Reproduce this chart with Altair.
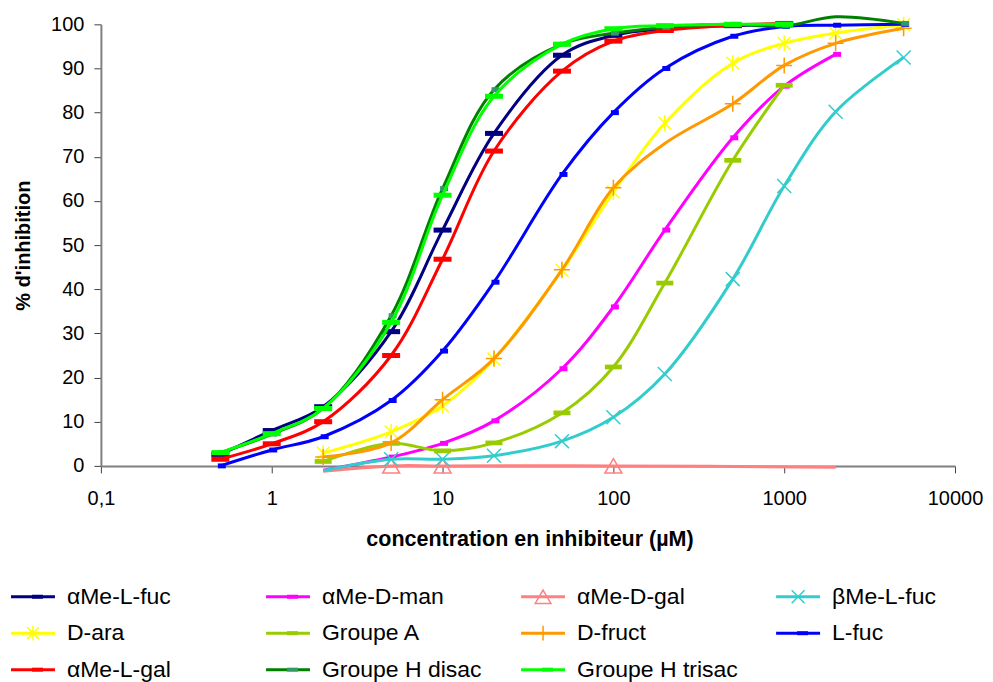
import altair as alt
import pandas as pd

# ---------------- data ----------------
series_names = ["αMe-L-fuc", "αMe-D-man", "αMe-D-gal", "βMe-L-fuc", "D-ara", "Groupe A",
                "D-fruct", "L-fuc", "αMe-L-gal", "Groupe H disac", "Groupe H trisac"]

a_me_l_fuc_x = [0.5, 1, 2, 5, 10, 20, 50, 100, 200, 500, 1000]
a_me_l_fuc_y = [2.6, 8, 13.4, 30.4, 53.4, 75.3, 93, 97.5, 99, 99.7, 100]

a_me_d_man_x = [2, 5, 10, 20, 50, 100, 200, 500, 1000, 2000]
a_me_d_man_y = [-1, 2, 5.1, 10.2, 22, 36, 53.4, 74.3, 86, 93.2]

a_me_d_gal_x = [2, 5, 10, 100, 2000]
a_me_d_gal_y = [-1.2, 0, 0, 0, -0.3]

b_me_l_fuc_x = [2, 5, 10, 20, 50, 100, 200, 500, 1000, 2000, 5000]
b_me_l_fuc_y = [-1.1, 1.5, 1.5, 2.3, 5.6, 11, 20.8, 42.3, 63.4, 80.2, 92.5]

d_ara_x = [2, 5, 10, 20, 50, 100, 200, 500, 1000, 2000, 5000]
d_ara_y = [2.9, 7.7, 13.6, 24.2, 44.3, 62, 77.6, 91.2, 95.7, 98, 99.9]

groupe_a_x = [2, 5, 10, 20, 50, 100, 200, 500, 1000]
groupe_a_y = [1, 5.1, 3.4, 5.2, 12, 22.4, 41.4, 69.2, 86.2]

d_fruct_x = [2, 5, 10, 20, 50, 100, 200, 500, 1000, 2000, 5000]
d_fruct_y = [2, 5.2, 15, 24.3, 44.4, 63, 73, 82, 90.7, 95.7, 99.1]

l_fuc_x = [0.5, 1, 2, 5, 10, 20, 50, 100, 200, 500, 1000, 2000, 5000]
l_fuc_y = [0, 3.6, 6.6, 14.8, 26, 41.6, 66, 80, 90, 97.3, 99.5, 99.8, 100]

a_me_l_gal_x = [0.5, 1, 2, 5, 10, 20, 50, 100, 200, 500, 1000]
a_me_l_gal_y = [1.5, 5, 10, 25, 46.8, 71.3, 89.4, 96.2, 98.6, 99.8, 100.2]

h_disac_x = [0.5, 1, 2, 5, 10, 20, 50, 100, 200, 500, 1000, 2000, 5000]
h_disac_y = [3, 7.2, 13, 34, 62.8, 85.2, 95.5, 98, 99.3, 100, 99.6, 101.7, 100.2]

h_trisac_x = [0.5, 1, 2, 5, 10, 20, 50, 100, 200, 500, 1000]
h_trisac_y = [3, 7.3, 13, 32.5, 61.3, 83.7, 95.5, 99, 99.7, 100, 100]

# points drawn without a marker (concentrations)
no_marker = {"αMe-D-man": [2], "αMe-D-gal": [2, 2000], "βMe-L-fuc": [2],
             "D-fruct": [200], "Groupe H disac": [2000]}

x_ticks = [0.1, 1, 10, 100, 1000, 10000]
y_ticks = [0, 10, 20, 30, 40, 50, 60, 70, 80, 90, 100]

all_x = [a_me_l_fuc_x, a_me_d_man_x, a_me_d_gal_x, b_me_l_fuc_x, d_ara_x, groupe_a_x,
         d_fruct_x, l_fuc_x, a_me_l_gal_x, h_disac_x, h_trisac_x]
all_y = [a_me_l_fuc_y, a_me_d_man_y, a_me_d_gal_y, b_me_l_fuc_y, d_ara_y, groupe_a_y,
         d_fruct_y, l_fuc_y, a_me_l_gal_y, h_disac_y, h_trisac_y]

# ---------------- styles ----------------
BIG_DASH = "M-1,-0.28L1,-0.28L1,0.28L-1,0.28Z"
SMALL_DASH = "M-0.45,-0.45L1,-0.45L1,0.45L-0.45,0.45Z"
LEG_DASH = "M-0.1,-0.2L1,-0.2L1,0.2L-0.1,0.2Z"
TRI = "M0,-0.85L1,0.85L-1,0.85Z"
CROSS = "M-1,-1L1,1M-1,1L1,-1"
PLUS = "M0,-1L0,1M-1,0L1,0"
STAR = "M0,-1L0,1M-0.8,-0.8L0.8,0.8M-0.8,0.8L0.8,-0.8"

styles = {
    "αMe-L-fuc": dict(line="#000080", mk="#000080", shape=BIG_DASH, size=324, filled=True, sw=0),
    "αMe-D-man": dict(line="#FF00FF", mk="#FF00FF", shape=SMALL_DASH, size=121, filled=True, sw=0),
    "αMe-D-gal": dict(line="#FF8080", mk="#FF8080", shape=TRI, size=289, filled=False, sw=1.5),
    "βMe-L-fuc": dict(line="#33CCCC", mk="#33CCCC", shape=CROSS, size=196, filled=False, sw=1.5),
    "D-ara": dict(line="#FFFF00", mk="#FFFF00", shape=STAR, size=256, filled=False, sw=1.5),
    "Groupe A": dict(line="#99CC00", mk="#99CC00", shape=BIG_DASH, size=289, filled=True, sw=0),
    "D-fruct": dict(line="#FF9900", mk="#FF9900", shape=PLUS, size=256, filled=False, sw=1.5),
    "L-fuc": dict(line="#0000FF", mk="#0000FF", shape=SMALL_DASH, size=121, filled=True, sw=0),
    "αMe-L-gal": dict(line="#FF0000", mk="#FF0000", shape=BIG_DASH, size=324, filled=True, sw=0),
    "Groupe H disac": dict(line="#008000", mk="#339966", shape=SMALL_DASH, size=121, filled=True, sw=0),
    "Groupe H trisac": dict(line="#00FF00", mk="#00FF00", shape=BIG_DASH, size=324, filled=True, sw=0),
}

FONT = "Liberation Sans"
PLOT_W, PLOT_H = 855, 442

rows = []
for name, xs, ys in zip(series_names, all_x, all_y):
    for i, (c, v) in enumerate(zip(xs, ys)):
        rows.append(dict(series=name, conc=c, pct=v, idx=i,
                         marked=c not in no_marker.get(name, [])))
df = pd.DataFrame(rows)

x_enc = alt.X("conc:Q",
              scale=alt.Scale(type="log", domain=[0.1, 10000], nice=False),
              axis=alt.Axis(values=x_ticks,
                            labelExpr="datum.value < 0.5 ? '0,1' : format(datum.value, 'd')",
                            grid=False, tickSize=7, tickColor="#404040", domainColor="#808080",
                            domainWidth=2, labelFontSize=20, labelFont=FONT, labelColor="black",
                            labelPadding=16, labelFlush=False,
                            title="concentration en inhibiteur (µM)", titleFont=FONT,
                            titleFontSize=21.5, titleFontWeight="bold", titleColor="black",
                            titleX=429, titleY=74, titleBaseline="middle"))
y_enc = alt.Y("pct:Q",
              scale=alt.Scale(domain=[0, 100], nice=False, zero=False),
              axis=alt.Axis(values=y_ticks, grid=False, tickSize=7, tickColor="#404040",
                            domainColor="#808080", domainWidth=2, labelFontSize=20,
                            labelFont=FONT, labelColor="black", labelPadding=10,
                            title="% d'inhibition", titleFont=FONT, titleFontSize=20,
                            titleFontWeight="bold", titleColor="black", titleAngle=270,
                            titleX=-77, titleY=PLOT_H / 2, titleBaseline="middle",
                            titleAlign="center"))

base = alt.Chart(df)
plot_layers = []
for name in series_names:
    st = styles[name]
    line = base.transform_filter(alt.datum.series == name).mark_line(
        color=st["line"], strokeWidth=3, interpolate="catmull-rom", clip=False
    ).encode(x=x_enc, y=y_enc, order="idx:Q")
    pt_kwargs = dict(shape=st["shape"], size=st["size"], filled=st["filled"], opacity=1, clip=False)
    if st["filled"]:
        pt_kwargs.update(fill=st["mk"], strokeWidth=0)
    else:
        pt_kwargs.update(color=st["mk"], strokeWidth=st["sw"])
    pts = base.transform_filter(
        (alt.datum.series == name) & (alt.datum.marked == True)
    ).mark_point(**pt_kwargs).encode(x=x_enc, y=y_enc)
    plot_layers += [line, pts]

plot = alt.layer(*plot_layers)

# ---------------- legend (4 columns x 3 rows below the plot) ----------------
legend_df = pd.DataFrame({"name": series_names,
                          "col": [i % 4 for i in range(len(series_names))],
                          "row": [i // 4 for i in range(len(series_names))]})
COL_STEP, COL0 = 255.3, -68.0     # px relative to plot left
ROW_STEP, ROW0 = 36.5, 573.0      # px relative to plot top
lx0 = -COL0 / COL_STEP
lx1 = lx0 + PLOT_W / COL_STEP
ly0 = -ROW0 / ROW_STEP
ly1 = ly0 + PLOT_H / ROW_STEP
lx_enc = alt.X("col:Q", scale=alt.Scale(domain=[lx0, lx1], nice=False, zero=False), axis=None)
ly_enc = alt.Y("row:Q", scale=alt.Scale(domain=[ly0, ly1], nice=False, zero=False, reverse=True), axis=None)

lbase = alt.Chart(legend_df)
legend_layers = []
for name in series_names:
    st = styles[name]
    f = lbase.transform_filter(alt.datum.name == name)
    seg = f.mark_point(shape="M-1,0L1,0", size=1936, filled=False, color=st["line"],
                       strokeWidth=3, opacity=1, clip=False).encode(x=lx_enc, y=ly_enc)
    if st["filled"]:
        mk = f.mark_point(shape=LEG_DASH, size=400, filled=True, fill=st["mk"], strokeWidth=0,
                          opacity=1, clip=False).encode(x=lx_enc, y=ly_enc)
    else:
        mk = f.mark_point(shape=st["shape"], size=st["size"] * 0.85, filled=False, color=st["mk"],
                          strokeWidth=st["sw"], opacity=1, clip=False).encode(x=lx_enc, y=ly_enc)
    legend_layers += [seg, mk]

legend_text = lbase.mark_text(align="left", baseline="middle", dx=34, fontSize=23, font=FONT,
                              color="black", clip=False).encode(x=lx_enc, y=ly_enc, text="name:N")
legend_layers.append(legend_text)
legend = alt.layer(*legend_layers)

chart = alt.layer(plot, legend).resolve_scale(x="independent", y="independent").properties(
    width=PLOT_W, height=PLOT_H,
    padding={"left": 93, "top": 16, "right": 30, "bottom": 222},
    autosize=alt.AutoSizeParams(type="none"),
    background="white",
).configure_view(stroke=None)

chart.save("out.html", embed_options={"renderer": "svg", "actions": False})
